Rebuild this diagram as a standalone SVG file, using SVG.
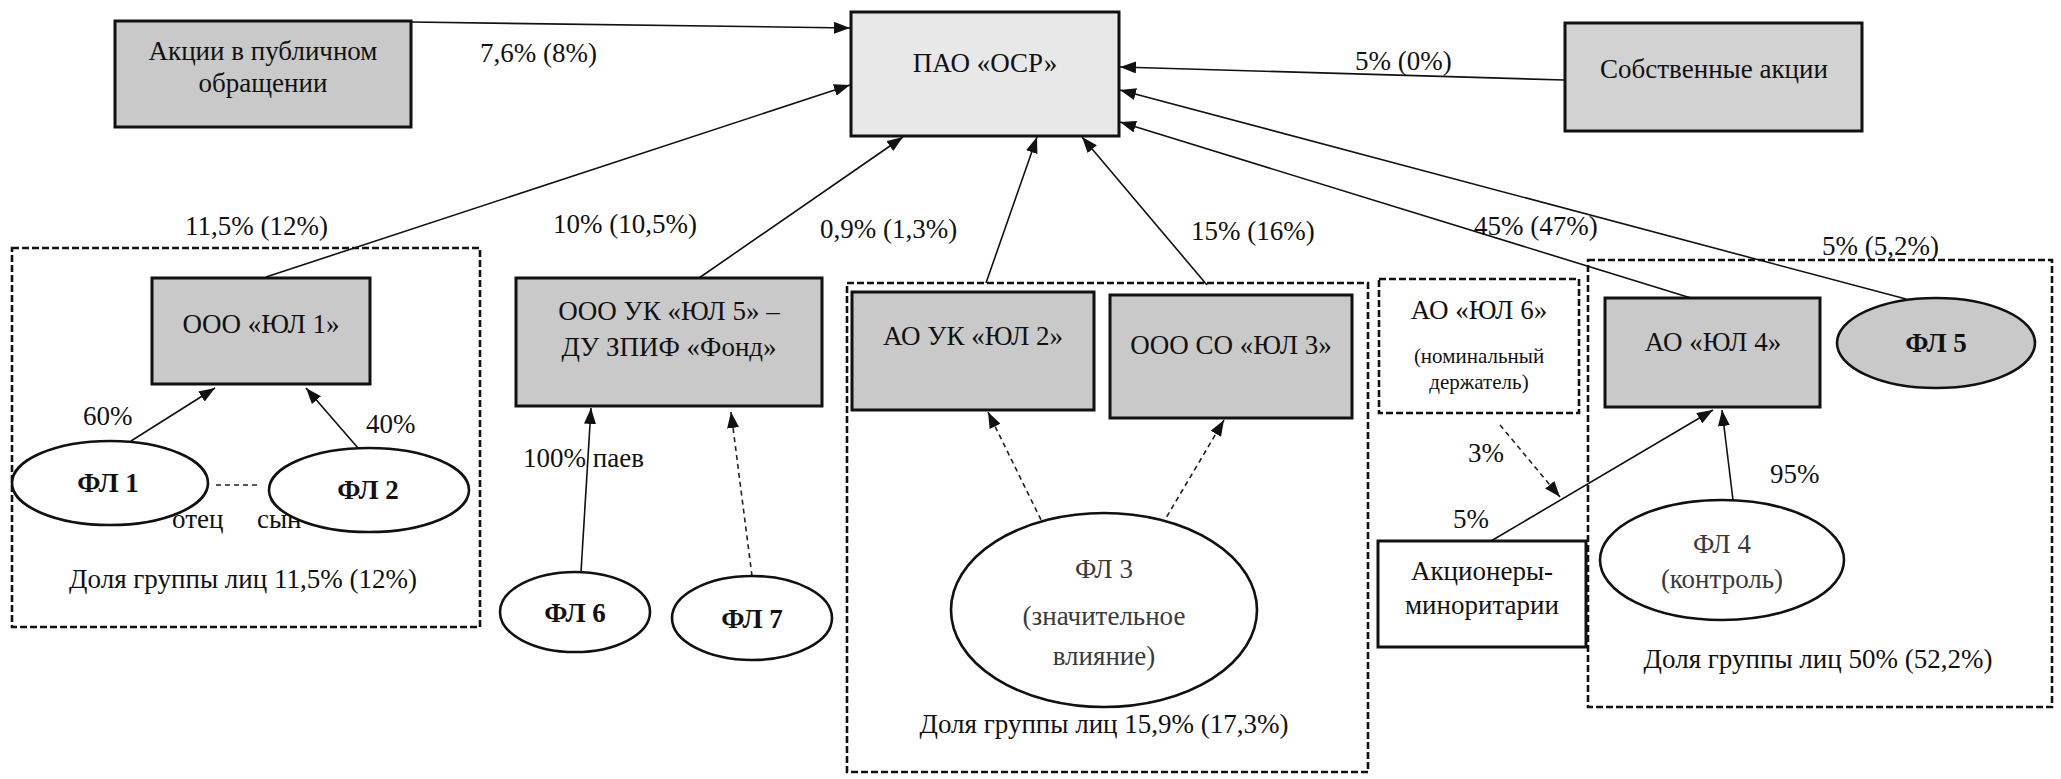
<svg xmlns="http://www.w3.org/2000/svg" width="2061" height="779" viewBox="0 0 2061 779">
<style>
text{font-family:"Liberation Serif","Times New Roman",serif;font-size:27px;fill:#111;text-anchor:middle}
.lbl{text-anchor:start}
.b{font-weight:bold}
.g{fill:#3a3a3a}
.sm{font-size:21px}
.box{fill:#c9c9c9;stroke:#111;stroke-width:3}
.light{fill:#e8e8e8;stroke:#111;stroke-width:3}
.wbox{fill:#fff;stroke:#111;stroke-width:3}
.ell{fill:#fff;stroke:#111;stroke-width:2.6}
.grp{fill:none;stroke:#111;stroke-width:2.6;stroke-dasharray:7 3}
.ln{fill:none;stroke:#111;stroke-width:1.6;marker-end:url(#ah)}
.dl{fill:none;stroke:#222;stroke-width:1.6;stroke-dasharray:5 4;marker-end:url(#ah)}
</style>
<defs>
<marker id="ah" viewBox="0 0 16 12" refX="16" refY="6" markerWidth="16" markerHeight="12" markerUnits="userSpaceOnUse" orient="auto"><path d="M0,0 L16,6 L0,12 z" fill="#111"/></marker>
</defs>
<rect width="2061" height="779" fill="#fff"/>

<g id="groups">
<rect id="grp1" class="grp" x="12" y="248" width="468" height="379"/>
<rect id="grp2" class="grp" x="847" y="283" width="521" height="489"/>
<rect id="grp4" class="grp" x="1588" y="260" width="464" height="447"/>
<text x="243" y="588">Доля группы лиц 11,5% (12%)</text>
<text x="1104" y="733">Доля группы лиц 15,9% (17,3%)</text>
<text x="1818" y="668">Доля группы лиц 50% (52,2%)</text>
</g>

<g id="connectors">
<line class="ln" x1="411" y1="22" x2="850" y2="28"/>
<line class="ln" x1="266" y1="277" x2="850" y2="85"/>
<line class="ln" x1="699" y1="278" x2="903" y2="137"/>
<line class="ln" x1="986" y1="283" x2="1037" y2="137"/>
<line class="ln" x1="1207" y1="285" x2="1082" y2="137"/>
<line class="ln" x1="1564" y1="80" x2="1120" y2="67"/>
<line class="ln" x1="1691" y1="298" x2="1120" y2="122"/>
<line class="ln" x1="1906" y1="299" x2="1120" y2="90"/>
<line class="ln" x1="131" y1="441" x2="215" y2="388"/>
<line class="ln" x1="358" y1="448" x2="306" y2="388"/>
<line x1="216" y1="485" x2="260" y2="485" stroke="#222" stroke-width="1.6" stroke-dasharray="5 4"/>
<line class="ln" x1="581" y1="572" x2="591" y2="408"/>
<line class="dl" x1="752" y1="576" x2="731" y2="412"/>
<line class="dl" x1="1045" y1="528" x2="988" y2="412"/>
<line class="dl" x1="1153" y1="540" x2="1224" y2="420"/>
<line class="dl" x1="1500" y1="425" x2="1560" y2="497"/>
<line class="ln" x1="1491" y1="541" x2="1713" y2="410"/>
<line class="ln" x1="1733" y1="500" x2="1722" y2="410"/>
<text class="lbl" x="480" y="62">7,6% (8%)</text>
<text class="lbl" x="185" y="235">11,5% (12%)</text>
<text class="lbl" x="553" y="233">10% (10,5%)</text>
<text class="lbl" x="820" y="238">0,9% (1,3%)</text>
<text class="lbl" x="1191" y="240">15% (16%)</text>
<text class="lbl" x="1355" y="70">5% (0%)</text>
<text class="lbl" x="1474" y="235">45% (47%)</text>
<text class="lbl" x="1822" y="255">5% (5,2%)</text>
<text class="lbl" x="83" y="425">60%</text>
<text class="lbl" x="366" y="433">40%</text>
<text class="lbl" x="172" y="528">отец</text>
<text class="lbl" x="257" y="528">сын</text>
<text class="lbl" x="523" y="467">100% паев</text>
<text class="lbl" x="1468" y="462">3%</text>
<text class="lbl" x="1453" y="528">5%</text>
<text class="lbl" x="1770" y="483">95%</text>
</g>

<g id="akcii"><rect class="box" x="115" y="21" width="296" height="106"/><text x="263" y="60">Акции в публичном</text><text x="263" y="92">обращении</text></g>
<g id="pao"><rect class="light" x="851" y="12" width="268" height="124"/><text x="985" y="72">ПАО «ОСР»</text></g>
<g id="sobst"><rect class="box" x="1565" y="23" width="297" height="108" style="fill:#d2d2d2"/><text x="1714" y="78">Собственные акции</text></g>
<g id="yul1"><rect class="box" x="152" y="278" width="218" height="106"/><text x="261" y="333">ООО «ЮЛ 1»</text></g>
<g id="yul5"><rect class="box" x="516" y="278" width="306" height="128"/><text x="669" y="320">ООО УК «ЮЛ 5» –</text><text x="669" y="356">ДУ ЗПИФ «Фонд»</text></g>
<g id="yul2"><rect class="box" x="852" y="292" width="242" height="118"/><text x="973" y="345">АО УК «ЮЛ 2»</text></g>
<g id="yul3"><rect class="box" x="1110" y="295" width="242" height="123"/><text x="1231" y="354">ООО СО «ЮЛ 3»</text></g>
<g id="yul6"><rect class="grp" x="1379" y="279" width="200" height="134"/><text x="1479" y="319">АО «ЮЛ 6»</text><text class="sm" x="1479" y="363">(номинальный</text><text class="sm" x="1479" y="389">держатель)</text></g>
<g id="yul4"><rect class="box" x="1605" y="298" width="215" height="109"/><text x="1713" y="351">АО «ЮЛ 4»</text></g>
<g id="fl5"><ellipse class="ell" cx="1936" cy="343" rx="99" ry="45" style="fill:#c9c9c9"/><text class="b" x="1936" y="352">ФЛ 5</text></g>
<g id="fl1"><ellipse class="ell" cx="110" cy="483" rx="98" ry="42"/><text class="b" x="108" y="492">ФЛ 1</text></g>
<g id="fl2"><ellipse class="ell" cx="369" cy="490" rx="100" ry="42"/><text class="b" x="368" y="499">ФЛ 2</text></g>
<g id="fl6"><ellipse class="ell" cx="575" cy="612" rx="75" ry="40"/><text class="b" x="575" y="622">ФЛ 6</text></g>
<g id="fl7"><ellipse class="ell" cx="752" cy="618" rx="80" ry="42"/><text class="b" x="752" y="628">ФЛ 7</text></g>
<g id="fl3"><ellipse class="ell" cx="1104" cy="610" rx="153" ry="97"/><text class="g" x="1104" y="578">ФЛ 3</text><text class="g" x="1104" y="625">(значительное</text><text class="g" x="1104" y="665">влияние)</text></g>
<g id="akcionery"><rect class="wbox" x="1378" y="541" width="208" height="106"/><text x="1482" y="580">Акционеры-</text><text x="1482" y="614">миноритарии</text></g>
<g id="fl4"><ellipse class="ell" cx="1722" cy="560" rx="122" ry="60"/><text class="g" x="1722" y="553">ФЛ 4</text><text class="g" x="1722" y="588">(контроль)</text></g>
</svg>
